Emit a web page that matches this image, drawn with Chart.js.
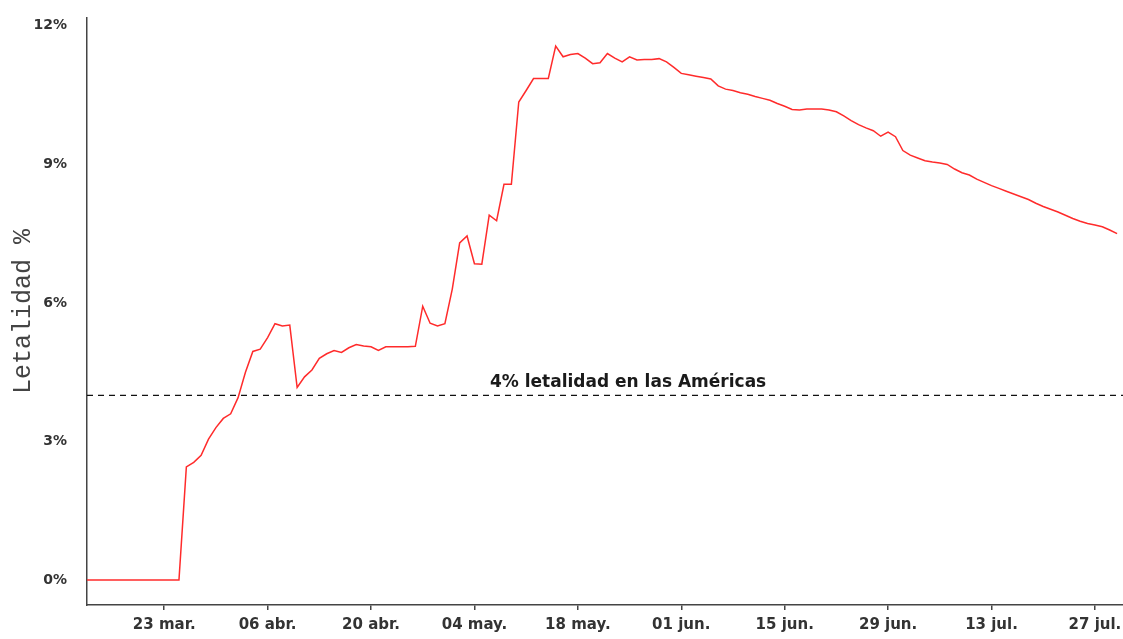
<!DOCTYPE html>
<html>
<head>
<meta charset="utf-8">
<script src="https://cdn.jsdelivr.net/npm/chart.js@4/dist/chart.umd.min.js"></script>
<style>
  html, body { margin: 0; padding: 0; background: #ffffff; }
  #wrap { width: 1123px; height: 639px; }
</style>
</head>
<body>
<div id="wrap"><canvas id="letalidadChart" width="1123" height="639"></canvas></div>
<script>
// Etiquetas del eje X (día 0 = 23 mar.)
const etiquetasFecha = ['23 mar.', '06 abr.', '20 abr.', '04 may.', '18 may.', '01 jun.', '15 jun.', '29 jun.', '13 jul.', '27 jul.'];
const diasTick = [0, 14, 28, 42, 56, 70, 84, 98, 112, 126];
const primerDia = -11; // 12 mar.

// Letalidad diaria (%)
const letalidad = [
  0, 0, 0, 0, 0, 0, 0, 0, 0, 0, 0, 0, 0, 0,
  2.45, 2.55, 2.7, 3.05, 3.3, 3.5, 3.6, 3.95, 4.5, 4.95,
  5.0, 5.25, 5.55, 5.5, 5.52, 4.17, 4.4, 4.55, 4.8, 4.9,
  4.97, 4.93, 5.03, 5.1, 5.07, 5.05, 4.97, 5.05, 5.05, 5.05,
  5.05, 5.06, 5.93, 5.56, 5.5, 5.55, 6.3, 7.3, 7.45, 6.85,
  6.84, 7.9, 7.78, 8.57, 8.57, 10.35, 10.6, 10.86, 10.86, 10.86,
  11.56, 11.33, 11.38, 11.4, 11.3, 11.18, 11.2, 11.4, 11.3, 11.22,
  11.33, 11.26, 11.27, 11.27, 11.29, 11.22, 11.1, 10.97, 10.94, 10.91,
  10.88, 10.85, 10.7, 10.63, 10.6, 10.55, 10.52, 10.47, 10.43, 10.39,
  10.32, 10.26, 10.19, 10.18, 10.2, 10.2, 10.2, 10.18, 10.14, 10.05,
  9.95, 9.86, 9.79, 9.73, 9.61, 9.7, 9.6, 9.3, 9.2, 9.14,
  9.08, 9.05, 9.03, 9.0, 8.9, 8.82, 8.77, 8.68, 8.61, 8.54,
  8.48, 8.42, 8.36, 8.3, 8.24, 8.16, 8.09, 8.03, 7.97, 7.9,
  7.83, 7.77, 7.72, 7.69, 7.65, 7.58, 7.5
];

const yTicks = [0, 3, 6, 9, 12];
const referencia = 4;
const textoReferencia = '4% letalidad en las Américas';

const xMin = -10.45;
const xMax = 129.8;

// Etiqueta sobre la línea de referencia
const etiquetaReferencia = {
  id: 'etiquetaReferencia',
  afterDatasetsDraw(chart) {
    const { ctx, scales } = chart;
    ctx.save();
    ctx.font = 'bold 17px "DejaVu Sans", sans-serif';
    ctx.fillStyle = '#1a1a1a';
    ctx.textAlign = 'center';
    ctx.textBaseline = 'bottom';
    ctx.fillText(textoReferencia, scales.x.getPixelForValue(62.8), scales.y.getPixelForValue(referencia) - 4);
    ctx.restore();
  }
};

const canvas = document.getElementById('letalidadChart');

new Chart(canvas.getContext('2d'), {
  type: 'line',
  data: {
    datasets: [
      {
        data: letalidad.map((v, i) => ({ x: primerDia + i, y: v })),
        borderColor: '#ff2b2b',
        borderWidth: 1.5,
        pointRadius: 0,
        tension: 0
      },
      {
        data: [{ x: xMin, y: referencia }, { x: xMax, y: referencia }],
        borderColor: '#111111',
        borderWidth: 1.3,
        borderDash: [6, 5],
        pointRadius: 0
      }
    ]
  },
  options: {
    responsive: false,
    animation: false,
    layout: { padding: { top: 18, right: 0, left: 0, bottom: 0 } },
    plugins: {
      legend: { display: false },
      tooltip: { enabled: false }
    },
    scales: {
      x: {
        type: 'linear',
        min: xMin,
        max: xMax,
        afterBuildTicks: (scale) => { scale.ticks = diasTick.map(v => ({ value: v })); },
        afterFit: (scale) => { scale.height = 34; scale.paddingLeft = 0; scale.paddingRight = 0; },
        grid: { display: true, drawOnChartArea: false, drawTicks: true, tickLength: 5, color: '#444444', lineWidth: 1.5 },
        border: { display: true, color: '#444444', width: 1.5 },
        ticks: {
          autoSkip: false,
          maxRotation: 0,
          padding: 6,
          color: '#333333',
          font: { family: '"DejaVu Sans", sans-serif', size: 15, weight: 'bold' },
          callback: (v) => etiquetasFecha[diasTick.indexOf(v)]
        }
      },
      y: {
        min: -0.54,
        max: 12.17,
        afterBuildTicks: (scale) => { scale.ticks = yTicks.map(v => ({ value: v })); },
        afterFit: (scale) => { scale.width = 87; scale.paddingTop = 0; scale.paddingBottom = 0; },
        grid: { display: false },
        border: { display: true, color: '#444444', width: 1.5 },
        ticks: {
          padding: 12,
          color: '#333333',
          font: { family: '"DejaVu Sans", sans-serif', size: 14, weight: 'bold' },
          callback: (v) => v + '%'
        },
        title: {
          display: true,
          text: 'Letalidad %',
          color: '#444444',
          padding: { top: 8, bottom: 0 },
          font: { family: '"Courier New", "Liberation Mono", monospace', size: 25, weight: 'normal' }
        }
      }
    }
  },
  plugins: [etiquetaReferencia]
});
</script>
</body>
</html>
